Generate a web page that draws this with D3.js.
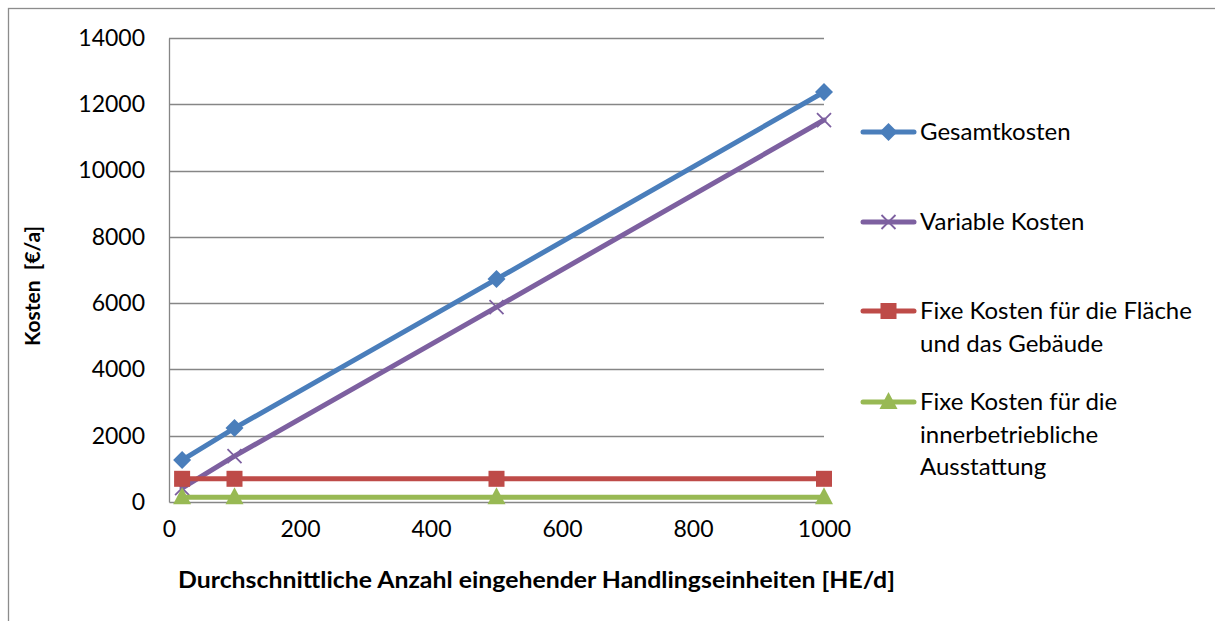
<!DOCTYPE html>
<html><head><meta charset="utf-8">
<script src="https://cdn.jsdelivr.net/npm/d3@7"></script>
<style>body{margin:0;background:#fff}svg{display:block;font-family:Lato,"Open Sans",sans-serif}</style>
</head><body><svg id="c" width="1215" height="621"></svg>
<script>
const xValues = [20, 100, 500, 1000];
const gesamtkosten = [1265, 2230, 6725, 12370];
const variableKosten = [420, 1385, 5880, 11525];
const fixFlaeche = [700, 700, 700, 700];
const fixAusstattung = [145, 145, 145, 145];
const xTicks = [0, 200, 400, 600, 800, 1000];
const yTicks = [0, 2000, 4000, 6000, 8000, 10000, 12000, 14000];
const seriesNames = [["Gesamtkosten"], ["Variable Kosten"], ["Fixe Kosten für die Fläche", "und das Gebäude"], ["Fixe Kosten für die", "innerbetriebliche", "Ausstattung"]];
const xTitle = "Durchschnittliche Anzahl eingehender Handlingseinheiten [HE/d]";
const yTitle = "Kosten  [€/a]";

const series = [
  {name: seriesNames[0], values: gesamtkosten, color: "#4A7EBB", marker: "diamond"},
  {name: seriesNames[1], values: variableKosten, color: "#7D60A0", marker: "x"},
  {name: seriesNames[2], values: fixFlaeche, color: "#BE4B48", marker: "square"},
  {name: seriesNames[3], values: fixAusstattung, color: "#98B954", marker: "triangle"}
];

const svg = d3.select("#c");
const x = d3.scaleLinear().domain([0, 1000]).range([169, 824]);
const y = d3.scaleLinear().domain([0, 14000]).range([502, 38]);
const grid = "#868686";

// outer border
svg.append("rect").attr("x", 8.5).attr("y", 8.5).attr("width", 1300).attr("height", 700)
  .attr("fill", "none").attr("stroke", "#8c8c8c").attr("stroke-width", 1.3);

// gridlines
svg.append("g").selectAll("line").data(yTicks.filter(d => d > 0)).join("line")
  .attr("x1", x(0)).attr("x2", x(1000)).attr("y1", d => Math.round(y(d)) + 0.5).attr("y2", d => Math.round(y(d)) + 0.5)
  .attr("stroke", grid).attr("stroke-width", 1.3);

// axes
const yAxis = d3.axisLeft(y).tickValues(yTicks).tickSize(0).tickPadding(24).tickFormat(d3.format("d"));
const gy = svg.append("g").attr("transform", `translate(${x(0)},0)`).call(yAxis);
gy.select(".domain").attr("stroke", grid).attr("stroke-width", 1.3);
gy.selectAll("text").attr("font-size", 23).attr("fill", "#000").attr("font-family", "Lato, sans-serif");

const xAxis = d3.axisBottom(x).tickValues(xTicks).tickSize(0).tickPadding(19).tickFormat(d3.format("d"));
const gx = svg.append("g").attr("transform", `translate(0,${y(0)})`).call(xAxis);
gx.select(".domain").attr("stroke", grid).attr("stroke-width", 1.3);
gx.selectAll("text").attr("font-size", 23).attr("fill", "#000").attr("font-family", "Lato, sans-serif");

// titles
svg.append("text").attr("x", 536.5).attr("y", 588).attr("text-anchor", "middle")
  .attr("font-size", 22).attr("font-weight", "bold")
  .attr("textLength", 717).attr("lengthAdjust", "spacingAndGlyphs").text(xTitle);
svg.append("text").attr("transform", "translate(40,286) rotate(-90)").attr("text-anchor", "middle")
  .attr("font-size", 21).attr("font-weight", "bold").attr("xml:space", "preserve").text(yTitle);

function drawMarker(g, type, cx, cy, color) {
  if (type === "diamond") {
    g.append("path").attr("d", `M${cx},${cy - 9}L${cx + 9},${cy}L${cx},${cy + 9}L${cx - 9},${cy}Z`).attr("fill", color);
  } else if (type === "square") {
    g.append("rect").attr("x", cx - 8).attr("y", cy - 8).attr("width", 16).attr("height", 16).attr("fill", color);
  } else if (type === "triangle") {
    g.append("path").attr("d", `M${cx},${cy - 10}L${cx + 9},${cy + 7}L${cx - 9},${cy + 7}Z`).attr("fill", color);
  } else if (type === "x") {
    g.append("path").attr("d", `M${cx - 7},${cy - 7}L${cx + 7},${cy + 7}M${cx + 7},${cy - 7}L${cx - 7},${cy + 7}`)
      .attr("stroke", color).attr("stroke-width", 1.8).attr("fill", "none");
  }
}

const line = d3.line().x(d => x(d[0])).y(d => y(d[1]));
series.forEach(s => {
  const g = svg.append("g");
  const pts = xValues.map((v, i) => [v, s.values[i]]);
  g.append("path").attr("d", line(pts)).attr("fill", "none").attr("stroke", s.color).attr("stroke-width", 5).attr("stroke-linecap", "round");
  pts.forEach(p => drawMarker(g, s.marker, x(p[0]), y(p[1]), s.color));
});

// legend
const legendY = [132, 222, 311, 402];
series.forEach((s, i) => {
  const g = svg.append("g");
  const ly = legendY[i];
  g.append("line").attr("x1", 863).attr("x2", 914).attr("y1", ly).attr("y2", ly)
    .attr("stroke", s.color).attr("stroke-width", 5).attr("stroke-linecap", "round");
  drawMarker(g, s.marker, 888.5, ly, s.color);
  s.name.forEach((t, j) => {
    g.append("text").attr("x", 920).attr("y", ly + 8 + j * 32.5).attr("font-size", 24).attr("fill", "#000").text(t);
  });
});
</script></body></html>
